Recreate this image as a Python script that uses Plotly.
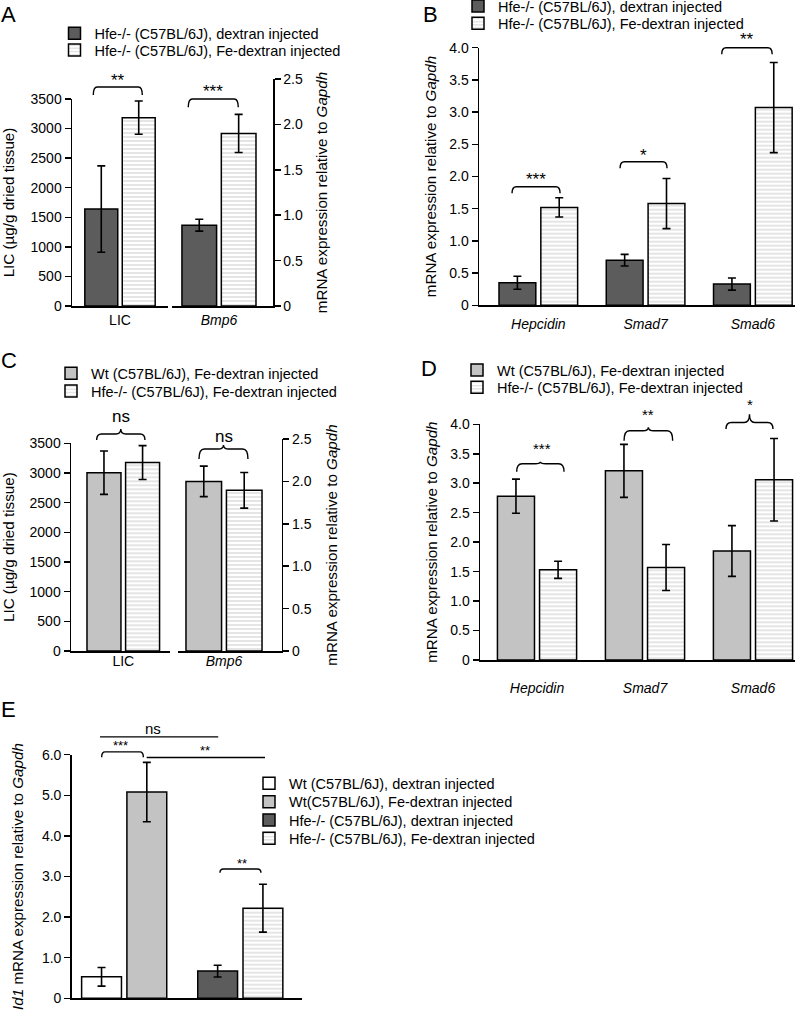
import plotly.graph_objects as go

W, H = 800, 1018
FONT = "Liberation Sans, Arial, Helvetica, sans-serif"

# ---------------- data ----------------
# Panel A
a_lic_cat = ["LIC"]
a_bmp_cat = ["Bmp6"]
a_series = ["Hfe-/- (C57BL/6J), dextran injected", "Hfe-/- (C57BL/6J), Fe-dextran injected"]
a_lic_values = [1640, 3185]
a_lic_errors = [730, 280]
a_bmp6_values = [0.89, 1.90]
a_bmp6_errors = [0.065, 0.21]

# Panel B
b_categories = ["Hepcidin", "Smad7", "Smad6"]
b_series = ["Hfe-/- (C57BL/6J), dextran injected", "Hfe-/- (C57BL/6J), Fe-dextran injected"]
b_dex_values = [0.35, 0.70, 0.33]
b_dex_errors = [0.10, 0.09, 0.095]
b_fe_values = [1.52, 1.58, 3.07]
b_fe_errors = [0.15, 0.39, 0.70]

# Panel C
c_lic_cat = ["LIC"]
c_bmp_cat = ["Bmp6"]
c_series = ["Wt (C57BL/6J), Fe-dextran injected", "Hfe-/- (C57BL/6J), Fe-dextran injected"]
c_lic_values = [3005, 3175]
c_lic_errors = [365, 285]
c_bmp6_values = [2.00, 1.895]
c_bmp6_errors = [0.18, 0.21]

# Panel D
d_categories = ["Hepcidin", "Smad7", "Smad6"]
d_series = ["Wt (C57BL/6J), Fe-dextran injected", "Hfe-/- (C57BL/6J), Fe-dextran injected"]
d_wt_values = [2.78, 3.21, 1.85]
d_wt_errors = [0.29, 0.45, 0.43]
d_hfe_values = [1.53, 1.57, 3.06]
d_hfe_errors = [0.145, 0.39, 0.70]

# Panel E
e_groups = ["Wt (C57BL/6J)", "Hfe-/- (C57BL/6J)"]
e_series = ["Wt (C57BL/6J), dextran injected", "Wt(C57BL/6J), Fe-dextran injected",
            "Hfe-/- (C57BL/6J), dextran injected", "Hfe-/- (C57BL/6J), Fe-dextran injected"]
e_series_group = [0, 0, 1, 1]
e_values = [0.53, 5.08, 0.67, 2.22]
e_errors = [0.23, 0.73, 0.145, 0.59]

# ---------------- styles ----------------
DARK = "#5c5c5c"
LIGHT = "#c3c3c3"
STYLES = {
    "dark": dict(color=DARK),
    "light": dict(color=LIGHT),
    "white": dict(color="white"),
    "pattern": dict(color="white", pattern=dict(shape="-", fgcolor="#a8a8a8", bgcolor="white",
                                               size=4, solidity=0.3)),
}


def px(x):
    return x / W


def py(y):
    return 1 - y / H


def bar(name, x, y, err, style, xa, ya, legend="legend", showlegend=False, offsetgroup=None):
    marker = dict(STYLES[style])
    marker["line"] = dict(color="black", width=1.5)
    return go.Bar(
        name=name, x=x, y=y, xaxis=xa, yaxis=ya, marker=marker,
        error_y=dict(type="data", array=err, visible=True, color="black", thickness=1.6, width=4),
        showlegend=showlegend, legend=legend, offsetgroup=offsetgroup,
    )


fig = go.Figure()

# A
fig.add_trace(bar(a_series[0], a_lic_cat, a_lic_values[:1], a_lic_errors[:1], "dark", "x", "y", "legend", True))
fig.add_trace(bar(a_series[1], a_lic_cat, a_lic_values[1:], a_lic_errors[1:], "pattern", "x", "y", "legend2", True))
fig.add_trace(bar(a_series[0], a_bmp_cat, a_bmp6_values[:1], a_bmp6_errors[:1], "dark", "x2", "y2"))
fig.add_trace(bar(a_series[1], a_bmp_cat, a_bmp6_values[1:], a_bmp6_errors[1:], "pattern", "x2", "y2"))
# B
fig.add_trace(bar(b_series[0], b_categories, b_dex_values, b_dex_errors, "dark", "x3", "y3", "legend3", True))
fig.add_trace(bar(b_series[1], b_categories, b_fe_values, b_fe_errors, "pattern", "x3", "y3", "legend4", True))
# C
fig.add_trace(bar(c_series[0], c_lic_cat, c_lic_values[:1], c_lic_errors[:1], "light", "x4", "y4", "legend5", True))
fig.add_trace(bar(c_series[1], c_lic_cat, c_lic_values[1:], c_lic_errors[1:], "pattern", "x4", "y4", "legend6", True))
fig.add_trace(bar(c_series[0], c_bmp_cat, c_bmp6_values[:1], c_bmp6_errors[:1], "light", "x5", "y5"))
fig.add_trace(bar(c_series[1], c_bmp_cat, c_bmp6_values[1:], c_bmp6_errors[1:], "pattern", "x5", "y5"))
# D
fig.add_trace(bar(d_series[0], d_categories, d_wt_values, d_wt_errors, "light", "x6", "y6", "legend7", True))
fig.add_trace(bar(d_series[1], d_categories, d_hfe_values, d_hfe_errors, "pattern", "x6", "y6", "legend8", True))
# E
e_styles = ["white", "light", "dark", "pattern"]
e_offsets = ["dex", "fe", "dex", "fe"]
for i, name in enumerate(e_series):
    fig.add_trace(bar(name, [e_groups[e_series_group[i]]], [e_values[i]], [e_errors[i]], e_styles[i],
                      "x7", "y7", "legend%d" % (9 + i), True, e_offsets[i]))

# ---------------- axes ----------------
TICKF = dict(family=FONT, size=14, color="black")
TITLEF = dict(family=FONT, size=15.2, color="black")


def italic(cats):
    return [c if c == "LIC" else "<i>%s</i>" % c for c in cats]


def xax(dom, rng, cats, anchor, show=True, standoff=4):
    return dict(domain=[px(dom[0]), px(dom[1])], range=rng, type="category", anchor=anchor,
                categoryorder="array", categoryarray=cats,
                tickmode="array", tickvals=cats, ticktext=italic(cats),
                showticklabels=show, ticks="", showline=True, linecolor="black", linewidth=1.5,
                showgrid=False, zeroline=False, tickfont=TICKF, fixedrange=True,
                ticklabelstandoff=standoff, automargin=False)


def yax(geo, tickvals, ticktext, anchor, side, title, standoff):
    return dict(domain=[py(geo["bottom"]), py(geo["top"])], range=[0, geo["max"]],
                anchor=anchor, side=side, tickmode="array", tickvals=tickvals, ticktext=ticktext,
                ticks="outside", ticklen=6, tickwidth=1.5, tickcolor="black",
                showline=True, linecolor="black", linewidth=1.5, showgrid=False, zeroline=False,
                tickfont=TICKF, fixedrange=True, automargin=False,
                title=dict(text=title, font=TITLEF, standoff=standoff))


YA1 = dict(bottom=306, top=99, max=3500)
YA2 = dict(bottom=306, top=79, max=2.5)
YB = dict(bottom=305.3, top=47.7, max=4.0)
YC1 = dict(bottom=651, top=443.3, max=3500)
YC2 = dict(bottom=651, top=439, max=2.5)
YD = dict(bottom=660, top=424.3, max=4.0)
YE = dict(bottom=998.3, top=754.7, max=6.0)

LIC_T = "LIC (µg/g dried tissue)"
MRNA_T = "mRNA expression relative to <i>Gapdh</i>"
lic_ticks = list(range(0, 3501, 500))
half_ticks = [0, 0.5, 1.0, 1.5, 2.0, 2.5]
half_text = ["0", "0.5", "1.0", "1.5", "2.0", "2.5"]
four_ticks = [0, 0.5, 1.0, 1.5, 2.0, 2.5, 3.0, 3.5, 4.0]
four_text = ["0", "0.5", "1.0", "1.5", "2.0", "2.5", "3.0", "3.5", "4.0"]
six_ticks = [0, 1, 2, 3, 4, 5, 6]
six_text = ["0", "1.0", "2.0", "3.0", "4.0", "5.0", "6.0"]

layout = dict(
    width=W, height=H, margin=dict(l=0, r=0, t=0, b=0, autoexpand=False),
    paper_bgcolor="white", plot_bgcolor="white",
    barmode="group", bargap=0.22, bargroupgap=0.12,
    font=dict(family=FONT, color="black"),
    xaxis=xax((72, 168), [-0.5, 0.5], a_lic_cat, "y", standoff=1),
    xaxis2=xax((172, 273), [-0.465, 0.535], a_bmp_cat, "y2", standoff=1),
    yaxis=yax(YA1, lic_ticks, [str(v) for v in lic_ticks], "x", "left", LIC_T, 12),
    yaxis2=yax(YA2, half_ticks, half_text, "x2", "right", MRNA_T, 14),
    xaxis3=xax((479, 795), [-0.553, 2.393], b_categories, "y3", standoff=5),
    yaxis3=yax(YB, four_ticks, four_text, "x3", "left", MRNA_T, 9),
    xaxis4=xax((71, 170), [-0.528, 0.472], c_lic_cat, "y4", standoff=-3),
    xaxis5=xax((178, 281.7), [-0.4436, 0.5564], c_bmp_cat, "y5", standoff=-3),
    yaxis4=yax(YC1, lic_ticks, [str(v) for v in lic_ticks], "x4", "left", LIC_T, 14),
    yaxis5=yax(YC2, half_ticks, half_text, "x5", "right", MRNA_T, 15),
    xaxis6=xax((480, 795), [-0.528, 2.389], d_categories, "y6", standoff=15),
    yaxis6=yax(YD, four_ticks, four_text, "x6", "left", MRNA_T, 9),
    xaxis7=xax((71.7, 301.7), [-0.452, 1.529], e_groups, "y7", show=False),
    yaxis7=yax(YE, six_ticks, six_text, "x7", "left", "<i>Id1</i> mRNA expression relative to <i>Gapdh</i>", 14),
)

# legends: one row each
LEGF = dict(family=FONT, size=14.5, color="black")
legend_pos = [(54.5, 33.3), (54.5, 50.0), (458, 6.0), (458, 23.3),
              (51, 373.3), (51, 391.0), (457, 370.0), (457, 387.3),
              (249, 783.3), (249, 801.7), (249, 820.0), (249, 838.3)]
for i, (lx, ly) in enumerate(legend_pos):
    key = "legend" if i == 0 else "legend%d" % (i + 1)
    layout[key] = dict(x=px(lx), y=py(ly), xanchor="left", yanchor="middle",
                       bgcolor="rgba(0,0,0,0)", borderwidth=0, font=LEGF,
                       tracegroupgap=0, itemclick=False, itemdoubleclick=False)

# ---------------- significance marks ----------------
shapes = []
annots = []
LINE = dict(color="black", width=1.4)


def yp(v, geo):
    pix = geo["bottom"] - v / geo["max"] * (geo["bottom"] - geo["top"])
    return 1 - pix / H


def round_bracket(xref, x0, x1, ytop, ybot, geo, r=0.04):
    yt, yb = yp(ytop, geo), yp(ybot, geo)
    path = "M %f,%f Q %f,%f %f,%f L %f,%f Q %f,%f %f,%f" % (
        x0, yb, x0, yt, x0 + r, yt, x1 - r, yt, x1, yt, x1, yb)
    shapes.append(dict(type="path", path=path, xref=xref, yref="paper", line=LINE))


def curly(xref, x0, x1, yend, yline, ypeak, geo, r=0.05):
    ye, yl, ypk = yp(yend, geo), yp(yline, geo), yp(ypeak, geo)
    xc = (x0 + x1) / 2
    path = ("M %f,%f Q %f,%f %f,%f L %f,%f Q %f,%f %f,%f Q %f,%f %f,%f L %f,%f Q %f,%f %f,%f" % (
        x0, ye, x0, yl, x0 + r, yl, xc - r, yl, xc, yl, xc, ypk, xc, yl, xc + r, yl,
        x1 - r, yl, x1, yl, x1, ye))
    shapes.append(dict(type="path", path=path, xref=xref, yref="paper", line=LINE))


def hline(xref, x0, x1, y, geo):
    shapes.append(dict(type="line", xref=xref, yref="paper", x0=x0, x1=x1,
                       y0=yp(y, geo), y1=yp(y, geo), line=LINE))


def label(text, xref, x, y, geo, size):
    annots.append(dict(text=text, xref=xref, yref="paper", x=x, y=yp(y, geo),
                       showarrow=False, xanchor="center", yanchor="middle",
                       font=dict(family=FONT, size=size, color="black")))


# A
round_bracket("x", -0.278, 0.232, 3703, 3568, YA1)
label("**", "x", -0.018, 3820, YA1, 17)
round_bracket("x2", -0.304, 0.191, 2.28, 2.188, YA2)
label("***", "x2", -0.056, 2.36, YA2, 17)
# B
round_bracket("x3", -0.245, 0.203, 1.84, 1.74, YB)
label("***", "x3", -0.02, 1.95, YB, 17)
round_bracket("x3", 0.762, 1.20, 2.23, 2.13, YB)
label("*", "x3", 0.98, 2.33, YB, 17)
round_bracket("x3", 1.71, 2.18, 4.0, 3.9, YB)
label("**", "x3", 1.945, 4.12, YB, 17)
# C
curly("x4", -0.269, 0.219, 3556, 3657, 3741, YC1)
label("ns", "x4", -0.026, 3960, YC1, 17)
curly("x5", -0.241, 0.231, 2.264, 2.382, 2.43, YC2)
label("ns", "x5", 0.0, 2.535, YC2, 17)
# D
curly("x6", -0.188, 0.25, 3.195, 3.33, 3.365, YD)
label("***", "x6", 0.05, 3.59, YD, 15)
curly("x6", 0.806, 1.256, 3.72, 3.89, 3.95, YD)
label("**", "x6", 1.03, 4.16, YD, 15)
curly("x6", 1.75, 2.185, 3.92, 4.03, 4.17, YD)
label("*", "x6", 1.97, 4.34, YD, 15)
# E
hline("x7", -0.208, 0.81, 6.44, YE)
label("ns", "x7", 0.25, 6.65, YE, 15)
round_bracket("x7", -0.194, 0.165, 6.07, 5.94, YE, r=0.03)
label("***", "x7", -0.036, 6.22, YE, 13)
hline("x7", 0.194, 1.213, 5.93, YE)
label("**", "x7", 0.696, 6.11, YE, 13)
round_bracket("x7", 0.825, 1.178, 3.185, 3.09, YE, r=0.03)
label("**", "x7", 1.015, 3.33, YE, 13)

# panel letters
for letter, (lx, ly) in {"A": (8, 14), "B": (430, 14.5), "C": (9, 360), "D": (429, 368), "E": (8, 709)}.items():
    annots.append(dict(text=letter, xref="paper", yref="paper", x=px(lx), y=py(ly),
                       showarrow=False, xanchor="center", yanchor="middle",
                       font=dict(family=FONT, size=22, color="black")))

layout["shapes"] = shapes
layout["annotations"] = annots
fig.update_layout(**layout)
# remove the browser's default 8px page margin so the figure sits at the window origin
fig.write_html("out.html", config={"displayModeBar": False, "staticPlot": True},
               post_script="document.body.style.margin='0px';")
